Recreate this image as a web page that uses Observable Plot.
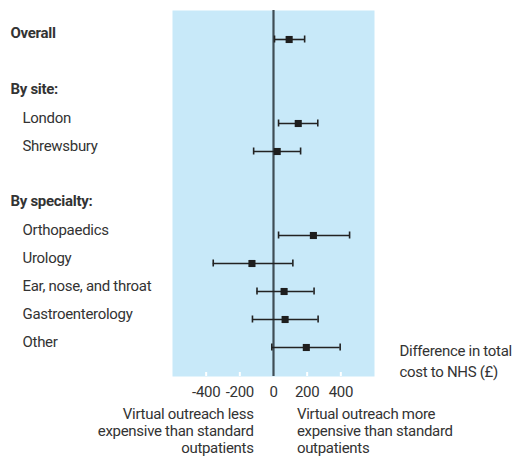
<!DOCTYPE html>
<html>
<head>
<meta charset="utf-8">
<script src="https://cdn.jsdelivr.net/npm/d3@7"></script>
<script src="https://cdn.jsdelivr.net/npm/@observablehq/plot@0.6"></script>
<style>
  html, body { margin: 0; padding: 0; background: #fff; }
  #chart svg { display: block; }
  #chart svg text { letter-spacing: -0.3px; }
</style>
</head>
<body>
<div id="chart"></div>
<script>
// Row layout (top to bottom), including section headers and spacer rows
const rowKeys = ["overall", "gap1", "site", "london", "shrewsbury", "gap2", "specialty",
  "ortho", "urology", "ent", "gastro", "other"];
const headerKeys = ["overall", "site", "specialty"];
const headerLabels = ["Overall", "By site:", "By specialty:"];
const itemKeys = ["london", "shrewsbury", "ortho", "urology", "ent", "gastro", "other"];
const itemLabels = ["London", "Shrewsbury", "Orthopaedics", "Urology", "Ear, nose, and throat", "Gastroenterology", "Other"];

// Estimates: difference in total cost to NHS (£) with 95% CI
const estKeys = ["overall", "london", "shrewsbury", "ortho", "urology", "ent", "gastro", "other"];
const estMean = [93, 147, 22, 237, -128, 63, 69, 195];
const estLow  = [6, 30, -118, 30, -358, -98, -125, -10];
const estHigh = [185, 263, 161, 452, 115, 241, 265, 396];

const xTicks = [-400, -200, 0, 200, 400];
const axisTitle = "Difference in total\ncost to NHS (£)";
const leftNote = "Virtual outreach less\nexpensive than standard\noutpatients";
const rightNote = "Virtual outreach more\nexpensive than standard\noutpatients";

const est = estKeys.map((k, i) => ({key: k, mean: estMean[i], lo: estLow[i], hi: estHigh[i]}));
const headers = headerKeys.map((k, i) => ({key: k, label: headerLabels[i]}));
const items = itemKeys.map((k, i) => ({key: k, label: itemLabels[i]}));

const font = "Roboto, 'Liberation Sans', sans-serif";
const ink = "#333";
const fs = 15;

const chart = Plot.plot({
  width: 513,
  height: 457,
  marginLeft: 172,
  marginRight: 139,
  marginTop: 10,
  marginBottom: 81,
  style: {fontFamily: font, fontSize: fs + "px", color: ink, background: "#fff"},
  x: {domain: [-600, 600]},
  y: {type: "band", domain: rowKeys, paddingInner: 0, paddingOuter: 0.5, axis: null},
  marks: [
    Plot.frame({fill: "#c8e9f9", stroke: "none"}),
    // white tick marks inside the panel bottom
    Plot.axisX({ticks: xTicks.filter(d => d !== 0), tickSize: -4, stroke: "#fff", strokeWidth: 2, tickFormat: () => "", label: null}),
    // tick labels (hyphen-minus as in the reference)
    Plot.axisX({ticks: xTicks, tickSize: 0, tickPadding: 10, tickFormat: d => String(d), fontSize: fs, fill: ink, label: null}),
    Plot.ruleX([0], {stroke: "#3f4d55", strokeWidth: 2.2}),
    Plot.ruleY(est, {y: "key", x1: "lo", x2: "hi", stroke: "#222", strokeWidth: 1.6}),
    Plot.tickX(est, {y: "key", x: "lo", stroke: "#222", strokeWidth: 1.6, insetTop: 10.5, insetBottom: 10.5}),
    Plot.tickX(est, {y: "key", x: "hi", stroke: "#222", strokeWidth: 1.6, insetTop: 10.5, insetBottom: 10.5}),
    Plot.dot(est, {y: "key", x: "mean", symbol: "square", r: 4, fill: "#1e1e1e", stroke: "none"}),
    // row labels
    Plot.text(headers, {y: "key", text: "label", frameAnchor: "left", dx: -162, dy: -6, textAnchor: "start", fontWeight: "bold", fontSize: fs, fill: ink}),
    Plot.text(items, {y: "key", text: "label", frameAnchor: "left", dx: -150, dy: -5, textAnchor: "start", fontSize: fs, fill: ink}),
    // annotations
    Plot.text([axisTitle], {frameAnchor: "bottom-right", dx: 25, dy: 0, textAnchor: "start", lineAnchor: "bottom", lineHeight: 1.4, fontSize: fs, fill: ink}),
    Plot.text([leftNote], {x: -118, frameAnchor: "bottom", dy: 30, textAnchor: "end", lineAnchor: "top", lineHeight: 1.15, fontSize: fs, fill: ink}),
    Plot.text([rightNote], {x: 139, frameAnchor: "bottom", dy: 30, textAnchor: "start", lineAnchor: "top", lineHeight: 1.15, fontSize: fs, fill: ink})
  ]
});
document.getElementById("chart").appendChild(chart);
</script>
</body>
</html>
